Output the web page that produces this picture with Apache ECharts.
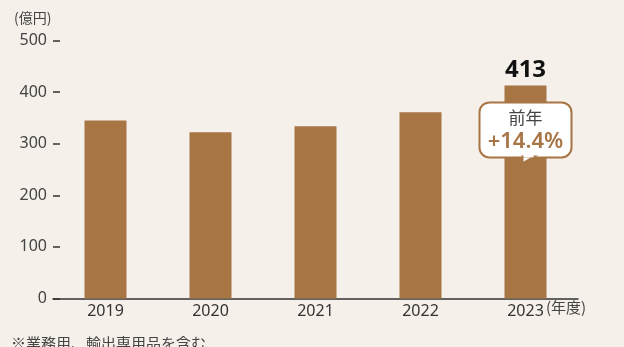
<!DOCTYPE html>
<html>
<head>
<meta charset="utf-8">
<script src="https://cdn.jsdelivr.net/npm/echarts@6/dist/echarts.min.js"></script>
<style>
  html, body { margin: 0; padding: 0; background: #f5f0ea; }
  #chart { width: 624px; height: 347px; }
</style>
</head>
<body>
<div id="chart"></div>
<script>
// 売上高の推移（億円）
const years = ['2019', '2020', '2021', '2022', '2023'];
const sales = [345, 322, 334, 361, 413];
const yTicks = [0, 100, 200, 300, 400, 500];
const growthLabel = '+14.4%';

const BROWN = '#a87545';
const FONT = '"Noto Sans", "Noto Sans CJK JP", sans-serif';
const JP = '"Noto Sans CJK JP", sans-serif';

const chart = echarts.init(document.getElementById('chart'), null, { renderer: 'canvas' });

const staticTexts = [
  { type: 'text', left: 14, top: 11,
    style: { text: '(億円)', fill: '#444', font: '14px ' + JP } },
  { type: 'text', left: 546, top: 300,
    style: { text: '(年度)', fill: '#444', font: '15px ' + JP } },
  { type: 'text', left: 11, top: 336,
    style: { text: '※業務用、輸出専用品を含む', fill: '#444', font: '15px ' + JP } }
];

chart.setOption({
  backgroundColor: '#f5f0ea',
  animation: false,
  textStyle: { fontFamily: FONT },
  grid: { left: 53, right: 46, top: 40.5, bottom: 48.5 },
  xAxis: {
    type: 'category',
    data: years,
    axisLine: { lineStyle: { color: '#333', width: 1.5 } },
    axisTick: { show: false },
    axisLabel: { color: '#333', fontSize: 16, margin: 5, fontFamily: FONT }
  },
  yAxis: {
    type: 'value',
    min: yTicks[0],
    max: yTicks[yTicks.length - 1],
    interval: 100,
    axisLine: { show: false },
    splitLine: { show: false },
    axisTick: { show: true, inside: true, length: 7, lineStyle: { color: '#333', width: 1.5 } },
    axisLabel: { color: '#444', fontSize: 16, margin: 6, fontFamily: FONT }
  },
  series: [{
    type: 'bar',
    data: sales.map((v, i) => i === sales.length - 1
      ? { value: v, label: { show: true, position: 'top', distance: 3, formatter: '{c}',
          color: '#111', fontSize: 24, fontWeight: 'bold', fontFamily: FONT } }
      : v),
    barWidth: '40%',
    itemStyle: { color: BROWN }
  }],
  graphic: staticTexts
});

// 前年比の吹き出し（2023年度の棒に重ねる）
const lastIdx = sales.length - 1;
const barTop = chart.convertToPixel({ seriesIndex: 0 }, [years[lastIdx], sales[lastIdx]]);
const cx = barTop[0];
const boxW = 92, boxH = 55;
const bx = cx - boxW / 2;
const by = barTop[1] + 17;

chart.setOption({
  graphic: staticTexts.concat([
    { type: 'rect', shape: { x: bx, y: by, width: boxW, height: boxH, r: 10 },
      style: { fill: '#fff', stroke: BROWN, lineWidth: 2 }, z: 10 },
    { type: 'polygon',
      shape: { points: [[cx - 3, by + boxH - 1], [cx - 3, by + boxH + 6], [cx + 9, by + boxH - 1]] },
      style: { fill: '#fff', stroke: BROWN, lineWidth: 2 }, z: 11 },
    { type: 'rect', shape: { x: cx - 2, y: by + boxH - 3, width: 10, height: 3 },
      style: { fill: '#fff' }, z: 12 },
    { type: 'text', x: cx, y: by + 15, z: 13,
      style: { text: '前年', fill: '#444', font: '17px ' + JP, align: 'center', verticalAlign: 'middle' } },
    { type: 'text', x: cx, y: by + 39, z: 13,
      style: { text: growthLabel, fill: BROWN, font: '600 22px ' + FONT, align: 'center', verticalAlign: 'middle' } }
  ])
});
</script>
</body>
</html>
